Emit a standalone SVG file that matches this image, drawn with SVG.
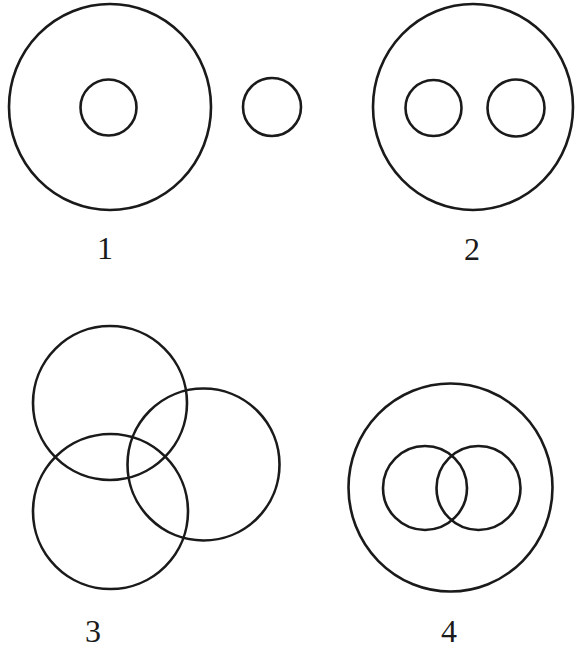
<svg xmlns="http://www.w3.org/2000/svg" width="575" height="651" viewBox="0 0 575 651">
<style>
.c{fill:none;stroke:#1a1a1a;stroke-width:2.6}
.t{font-family:"Liberation Serif","DejaVu Serif",serif;font-size:32px;fill:#1a1a1a;text-anchor:middle}
</style>
<rect width="575" height="651" fill="#ffffff"/>
<g id="fig1">
<ellipse class="c" cx="110" cy="107" rx="101" ry="103"/>
<circle class="c" cx="108.5" cy="107.5" r="28"/>
<circle class="c" cx="272" cy="107" r="29"/>
<text class="t" x="105" y="259">1</text>
</g>
<g id="fig2">
<ellipse class="c" cx="473" cy="107" rx="100" ry="103"/>
<circle class="c" cx="433.5" cy="108" r="28"/>
<circle class="c" cx="516" cy="108" r="28.5"/>
<text class="t" x="472" y="260">2</text>
</g>
<g id="fig3">
<circle class="c" cx="110" cy="403" r="77"/>
<circle class="c" cx="203.5" cy="464.5" r="76"/>
<circle class="c" cx="110.5" cy="511.5" r="77.5"/>
<text class="t" x="93" y="642">3</text>
</g>
<g id="fig4">
<ellipse class="c" cx="450.5" cy="487.5" rx="102" ry="104"/>
<circle class="c" cx="425" cy="488" r="42"/>
<circle class="c" cx="478.5" cy="488" r="42"/>
<text class="t" x="449" y="642">4</text>
</g>
</svg>
